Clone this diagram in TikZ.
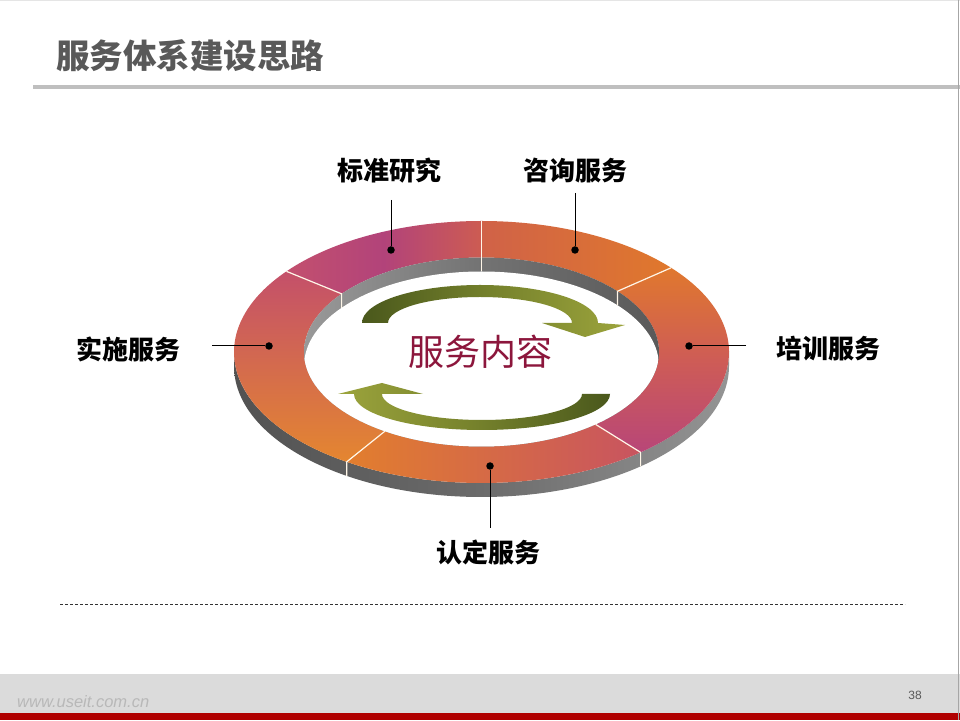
\documentclass[tikz,border=0pt]{standalone}
\usepackage{fontspec}
\newfontfamily\cjk{Noto Sans CJK SC}
\newfontfamily\latin{Liberation Sans}
\usetikzlibrary{calc}
\definecolor{orng}{RGB}{224,122,46}
\definecolor{mgnt}{RGB}{178,67,122}
\definecolor{salm}{RGB}{205,92,82}
\definecolor{segAl}{RGB}{195,80,110}
\definecolor{segBl}{RGB}{208,98,72}
\definecolor{segBr}{RGB}{224,120,44}
\definecolor{segCt}{RGB}{224,120,46}
\definecolor{segCb}{RGB}{184,70,120}
\definecolor{segCm}{RGB}{206,92,86}
\definecolor{segDl}{RGB}{226,126,46}
\definecolor{segDr}{RGB}{200,84,96}
\definecolor{segEt}{RGB}{196,80,106}
\definecolor{segEb}{RGB}{228,134,48}
\definecolor{arrdark}{RGB}{74,88,28}
\definecolor{arrlight}{RGB}{156,164,60}
\definecolor{arrmid}{RGB}{118,130,44}
\definecolor{titlegray}{RGB}{89,89,89}
\definecolor{centred}{RGB}{140,22,60}
\definecolor{divcol}{RGB}{255,246,232}
\definecolor{footred}{RGB}{176,0,0}
\newcommand\ringseg[3]{%
  \shade[#3] ($(C)+(#1:247.5 and 131)$) arc[start angle=#1,end angle=#2,x radius=247.5,y radius=131]
   -- ($(C)+(#2:177.5 and 94.5)$) arc[start angle=#2,end angle=#1,x radius=177.5,y radius=94.5] -- cycle;}
\tikzset{
  lab/.style={font=\cjk\bfseries\fontsize{26}{30}\selectfont, text=black, inner sep=0pt},
  leader/.style={draw=black, line width=1pt},
  dotn/.style={circle, fill=black, inner sep=0pt, minimum size=7.5pt},
  divline/.style={draw=divcol, line width=1.2pt},
}
\begin{document}
\begin{tikzpicture}[x=1pt,y=1pt]
\useasboundingbox (0,0) rectangle (960,720);
\fill[white] (0,0) rectangle (960,720);
\coordinate (C) at (481.5,368);
% outer wall
\shade[left color=black!68, right color=black!42, middle color=black!58]
  ($(C)+(180:247.5 and 131)$) arc[start angle=180,end angle=360,x radius=247.5,y radius=131]
  -- ++(0,-14) arc[start angle=360,end angle=180,x radius=247.5,y radius=131] -- cycle;
% top surface segments
\ringseg{90}{142}{left color=segAl, right color=salm, middle color=mgnt}
\ringseg{40}{90}{left color=segBl, right color=segBr}
\ringseg{-50}{40}{top color=segCt, bottom color=segCb, middle color=segCm}
\ringseg{-123}{-50}{left color=segDl, right color=segDr}
\ringseg{142}{237}{top color=segEt, bottom color=segEb}
% hole
\shade[left color=black!40, right color=black!65, middle color=black!55] (C) ellipse[x radius=177.5,y radius=94.5];
\begin{scope}
  \clip (C) ellipse[x radius=177.5,y radius=94.5];
  \fill[white] ($(C)+(0,-14)$) ellipse[x radius=177.5,y radius=94.5];
\end{scope}
% dividers
\foreach \a in {90,40,142}{
  \draw[divline] ($(C)+(\a:247.5 and 131)$) -- ($(C)+(\a:177.5 and 94.5)$) -- ++(0,-14);
}
\foreach \a in {-50,237}{
  \draw[divline] ($(C)+(\a:177.5 and 94.5)$) -- ($(C)+(\a:247.5 and 131)$) -- ++(0,-14);
}
% arrows
\shade[left color=arrdark, right color=arrlight, middle color=arrmid]
  (362,397) arc[start angle=180,end angle=0,x radius=118,y radius=38]
  -- (625,395) -- (585,383) -- (542,397) -- (572,397)
  arc[start angle=0,end angle=180,x radius=92,y radius=26] -- cycle;
\shade[left color=arrlight, right color=arrdark, middle color=arrmid]
  (610,326) arc[start angle=0,end angle=-180,x radius=128,y radius=36]
  -- (338,326) -- (382,337) -- (423,326) -- (382,326)
  arc[start angle=180,end angle=360,x radius=100,y radius=26] -- cycle;
% center text
\node[font=\cjk\fontsize{36}{40}\selectfont, text=centred, inner sep=0pt] (center) at (480,368) {服务内容};
% labels, dots, leaders
\node[dotn] (d1) at (391,470) {};
\node[dotn] (d2) at (575,470) {};
\node[dotn] (d3) at (269,374) {};
\node[dotn] (d4) at (689,374) {};
\node[dotn] (d5) at (490,254) {};
\coordinate (l1) at (391,520);
\coordinate (l2) at (575,527);
\coordinate (l3) at (212,374);
\coordinate (l4) at (746,374);
\coordinate (l5) at (490,192);
\draw[leader] (l1) -- (d1);
\draw[leader] (l2) -- (d2);
\draw[leader] (l3) -- (d3);
\draw[leader] (l4) -- (d4);
\draw[leader] (l5) -- (d5);
\node[lab] (t1) at (389,549) {标准研究};
\node[lab] (t2) at (575,549) {咨询服务};
\node[lab] (t3) at (128,371) {实施服务};
\node[lab] (t4) at (828,371) {培训服务};
\node[lab] (t5) at (488.5,168) {认定服务};
% title
\node[anchor=west, font=\cjk\bfseries\fontsize{33.5}{38}\selectfont, text=titlegray, inner sep=0pt] (title) at (56,664) {服务体系建设思路};
\draw[line width=4pt, draw=black!25] (33,632.5) -- (960,632.5);
\draw[line width=1pt, draw=black!10] (0,719) -- (960,719);
% dashed line
\draw[line width=0.8pt, draw=black!80, dash pattern=on 3pt off 2pt] (60,116) -- (905,116);
% footer
\fill[black!14] (0,7) rectangle (960,46);
\fill[footred] (0,0) rectangle (960,7);
\node[anchor=west, font=\latin\itshape\fontsize{16.5}{18}\selectfont, text=black!28, inner sep=0pt] (url) at (17,18) {www.useit.com.cn};
\node[font=\latin\fontsize{12}{14}\selectfont, text=titlegray, inner sep=0pt] (pnum) at (915,25) {38};
\draw[line width=1.2pt, draw=black!35] (958.6,0) -- (958.6,720);
\end{tikzpicture}
\end{document}
